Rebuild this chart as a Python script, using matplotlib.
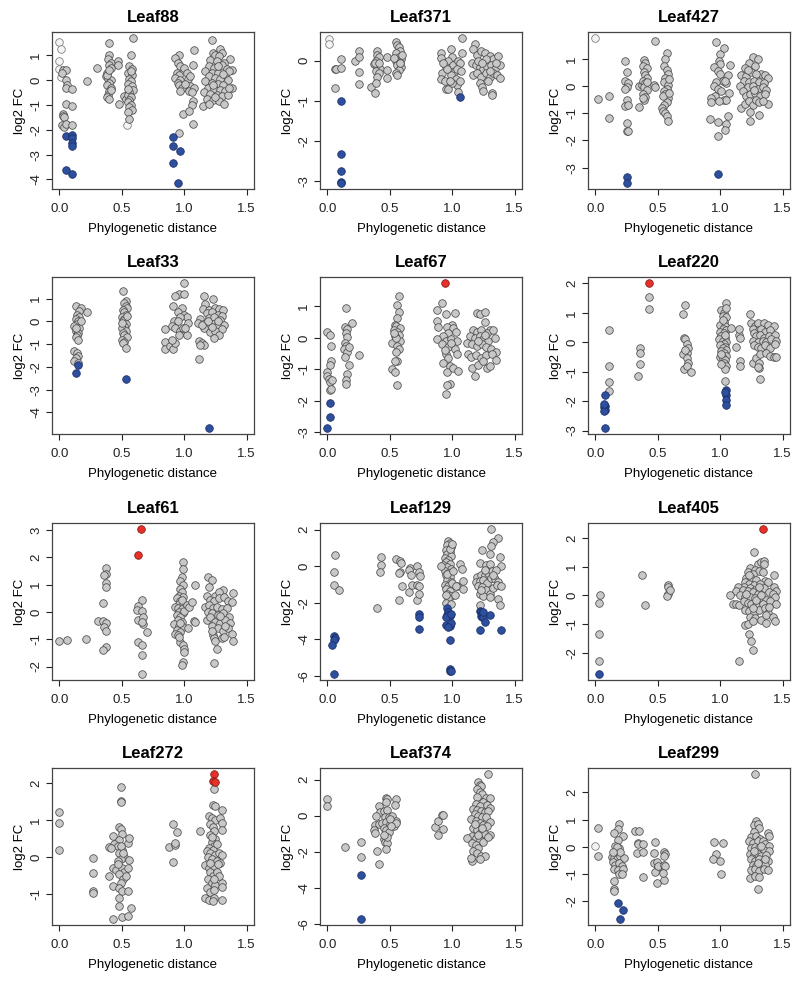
import matplotlib
matplotlib.use('Agg')
import matplotlib.pyplot as plt

# (distance, log2 FC) pairs, one list per panel and colour
leaf88_grey = [(0.03,0.4),(0.05,0.4),(0.02,0.3),(0.05,0.0),(0.06,-0.2),(0.05,-0.3),(0.1,-0.35),(0.05,-0.95),(0.1,-1.05),
    (0.03,-1.35),(0.03,-1.45),(0.04,-1.5),(0.02,-1.8),(0.04,-1.9),(0.05,-1.75),(0.1,-1.8),(0.22,-0.05),(0.3,0.5),
    (0.4,1.5),(0.4,1.0),(0.39,0.85),(0.41,0.7),(0.4,0.6),(0.41,0.5),(0.38,0.3),(0.37,0.15),(0.39,0.05),(0.41,0.0),
    (0.4,-0.1),(0.38,-0.2),(0.41,-0.3),(0.4,-0.45),(0.39,-0.6),(0.38,-0.7),(0.4,-0.75),(0.41,-0.4),(0.38,0.2),(0.4,0.4),
    (0.47,0.75),(0.47,0.6),(0.48,-0.95),(0.52,-0.65),(0.53,-0.75),
    (0.59,1.7),(0.57,1.0),(0.56,0.55),(0.58,0.45),(0.55,0.3),(0.58,0.2),(0.56,0.05),(0.57,-0.05),(0.55,-0.15),(0.58,-0.25),
    (0.59,-0.4),(0.56,-0.5),(0.55,-0.6),(0.57,-0.7),(0.56,-0.8),(0.55,-0.9),(0.57,-1.0),(0.56,-1.1),(0.58,-1.2),(0.55,-1.3),
    (0.56,-1.55),(0.57,0.35),(0.55,-0.35),
    (0.96,1.0),(0.93,0.9),(0.95,0.7),(0.97,0.55),(0.94,0.3),(0.96,0.2),(0.93,0.1),(0.97,0.0),(0.95,-0.1),(0.96,-0.2),
    (0.98,-0.3),(0.97,-0.45),(0.96,-2.15),(0.99,-1.35),
    (1.0,0.5),(1.02,0.3),(1.03,0.05),(1.05,-0.25),(1.04,-0.45),(1.07,-0.85),(1.06,-1.0),(1.04,-1.25),(1.07,-1.75),(1.08,1.2),
    (1.07,0.6),(1.08,-0.3),(1.06,-0.5),(1.05,0.15),(1.01,-0.15),
    (1.22,1.6),(1.23,1.1),(1.25,1.0),(1.29,1.25),(1.3,1.1),(1.28,0.95),(1.37,0.85),(1.21,0.8),(1.26,0.75),(1.32,0.7),
    (1.2,0.55),(1.24,0.5),(1.3,0.6),(1.34,0.45),(1.38,0.4),(1.17,0.35),(1.22,0.3),(1.27,0.3),(1.33,0.2),(1.36,0.35),
    (1.2,0.15),(1.25,0.1),(1.29,0.05),(1.35,0.0),(1.17,-0.05),(1.22,-0.1),(1.27,-0.15),(1.31,-0.2),(1.38,-0.3),(1.19,-0.3),
    (1.24,-0.35),(1.29,-0.4),(1.33,-0.45),(1.16,-0.5),(1.21,-0.55),(1.26,-0.6),(1.3,-0.65),(1.35,-0.6),(1.18,-0.75),
    (1.23,-0.8),(1.28,-0.85),(1.32,-0.95),(1.15,-1.05),(1.2,-0.95),(1.25,-0.7),(1.36,-0.3),(1.27,0.55),(1.23,-0.2),(1.31,0.25)]
leaf88_blue = [(0.05,-2.25),(0.1,-2.2),(0.1,-2.35),(0.1,-2.55),(0.1,-2.65),(0.05,-3.6),(0.1,-3.78),
    (0.91,-2.3),(0.91,-2.65),(0.97,-2.85),(0.91,-3.35),(0.95,-4.15)]
leaf88_red = []
leaf88_pale = [(0.0,1.53),(0.01,1.25),(0.0,0.78),(0.0,0.43),(0.01,0.12),(0.54,-1.8)]
leaf88_yticks = [-4, -3, -2, -1, 0, 1]

leaf371_grey = [(0.06,-0.2),(0.07,-0.2),(0.11,0.03),(0.11,-0.18),(0.06,-0.67),(0.22,0.0),(0.25,0.25),(0.25,0.08),
    (0.25,-0.27),(0.25,-0.57),(0.35,-0.66),(0.38,-0.8),
    (0.4,0.25),(0.4,0.15),(0.41,0.08),(0.39,0.0),(0.37,-0.07),(0.4,-0.12),(0.42,-0.2),(0.39,-0.25),(0.41,-0.3),(0.4,-0.4),
    (0.39,-0.55),(0.38,-0.05),(0.41,-0.05),(0.48,0.08),(0.48,-0.22),(0.48,-0.42),
    (0.55,0.47),(0.56,0.4),(0.57,0.35),(0.58,0.25),(0.55,0.2),(0.57,0.1),(0.59,0.05),(0.55,0.0),(0.58,-0.05),(0.56,-0.1),
    (0.59,-0.15),(0.57,-0.22),(0.55,-0.3),(0.56,-0.35),(0.6,0.15),(0.53,0.07),(0.58,-0.05),
    (0.91,0.18),(0.91,0.07),(0.92,-0.3),(0.91,-0.45),(0.94,-0.5),(0.95,-0.7),(0.97,-0.7),(0.99,0.28),(1.0,0.1),(0.97,0.0),
    (0.95,-0.15),(1.01,-0.1),(1.02,-0.25),(0.99,-0.35),(1.03,-0.45),(1.04,-0.6),(1.05,-0.78),(1.0,-0.55),(1.05,0.0),
    (1.06,-0.05),(1.04,-0.2),(1.07,-0.25),(1.08,0.57),(1.08,0.18),(0.96,-0.2),(0.93,-0.05),(1.06,-0.5),(0.98,-0.5),
    (1.18,0.42),(1.17,0.3),(1.2,0.15),(1.23,0.25),(1.26,0.2),(1.3,0.12),(1.33,0.05),(1.37,0.12),(1.16,-0.05),(1.19,-0.1),
    (1.22,-0.15),(1.25,-0.2),(1.28,-0.15),(1.31,-0.1),(1.34,-0.2),(1.38,-0.1),(1.17,-0.35),(1.2,-0.3),(1.23,-0.4),
    (1.27,-0.3),(1.3,-0.4),(1.33,-0.3),(1.36,-0.35),(1.38,-0.42),(1.22,-0.55),(1.24,-0.65),(1.25,-0.75),(1.32,-0.8),
    (1.32,-0.85),(1.29,-0.5),(1.21,0.0),(1.27,0.05),(1.35,-0.05),(1.24,-0.05),(1.3,-0.25)]
leaf371_blue = [(0.11,-1.0),(0.11,-2.32),(0.11,-2.75),(0.11,-3.02),(0.11,-3.05),(1.06,-0.9)]
leaf371_red = []
leaf371_pale = [(0.01,0.55),(0.01,0.42)]
leaf371_yticks = [-3, -2, -1, 0]

leaf427_grey = [(0.02,-0.47),(0.11,-0.37),(0.11,-1.18),
    (0.24,0.92),(0.25,0.5),(0.24,0.18),(0.26,0.1),(0.25,-0.05),(0.24,-0.1),(0.25,-0.5),(0.24,-0.75),(0.26,-0.7),
    (0.25,-1.35),(0.25,-1.65),(0.26,-1.67),(0.35,-0.77),(0.35,0.0),(0.37,0.02),
    (0.39,0.95),(0.4,0.85),(0.38,0.75),(0.41,0.65),(0.39,0.5),(0.4,0.4),(0.41,0.3),(0.38,0.2),(0.4,0.1),(0.39,-0.05),
    (0.41,-0.15),(0.38,-0.3),(0.4,-0.4),(0.39,-0.5),(0.41,0.15),(0.38,-0.45),(0.48,1.65),(0.47,0.05),(0.48,-0.05),
    (0.57,1.22),(0.56,1.0),(0.55,0.75),(0.57,0.6),(0.58,0.45),(0.56,0.3),(0.55,0.15),(0.58,0.05),(0.57,-0.1),(0.55,-0.2),
    (0.56,-0.3),(0.58,-0.45),(0.57,-0.6),(0.55,-0.7),(0.53,-0.8),(0.54,-0.9),(0.56,-1.0),(0.57,-1.1),(0.58,-1.3),
    (0.59,0.25),(0.54,-0.35),(0.59,-0.25),
    (0.97,1.63),(1.0,1.18),(1.03,1.4),(0.99,0.9),(1.0,0.8),(0.95,0.68),(0.98,0.55),(1.0,0.45),(1.02,0.2),(0.97,0.15),
    (0.95,0.0),(0.98,-0.1),(1.01,-0.2),(0.96,-0.35),(0.93,-0.45),(0.93,-0.6),(0.92,-1.2),(0.98,-1.32),(0.98,-1.85),
    (1.06,-1.12),(1.05,-1.4),(1.04,-1.62),(1.08,0.78),(1.06,0.42),(1.07,-0.25),(1.05,0.1),(1.03,-0.5),(1.05,-0.5),
    (0.99,-0.55),(1.04,0.2),
    (1.26,1.05),(1.3,1.0),(1.23,0.85),(1.28,0.75),(1.2,0.65),(1.33,0.45),(1.17,0.4),(1.21,0.35),(1.25,0.5),(1.29,0.45),
    (1.36,0.4),(1.38,0.3),(1.19,0.2),(1.23,0.15),(1.27,0.2),(1.31,0.15),(1.35,0.1),(1.16,0.0),(1.22,-0.05),(1.26,0.0),
    (1.3,-0.1),(1.34,-0.05),(1.37,-0.15),(1.18,-0.2),(1.21,-0.35),(1.24,-0.3),(1.28,-0.25),(1.32,-0.35),(1.36,-0.3),
    (1.38,-0.65),(1.17,-0.8),(1.2,-0.65),(1.23,-0.55),(1.26,-0.7),(1.29,-0.5),(1.31,-0.6),(1.24,-0.95),(1.24,-1.28),
    (1.31,-1.08),(1.34,-0.55),(1.27,-0.15),(1.22,0.6)]
leaf427_blue = [(0.25,-3.35),(0.25,-3.57),(0.98,-3.23)]
leaf427_red = []
leaf427_pale = [(0.0,1.77)]
leaf427_yticks = [-3, -2, -1, 0, 1]

leaf33_grey = [(0.13,0.68),(0.17,0.6),(0.16,0.45),(0.22,0.42),(0.14,0.3),(0.16,0.2),(0.13,0.1),(0.15,0.0),(0.14,-0.1),
    (0.12,-0.2),(0.16,-0.3),(0.13,-0.4),(0.15,-0.5),(0.14,-0.6),(0.13,-0.7),(0.15,-0.8),(0.12,-1.3),(0.14,-1.4),
    (0.15,-1.5),(0.13,-1.6),(0.12,-1.75),(0.15,-1.85),(0.17,0.0),(0.13,-0.3),
    (0.51,1.35),(0.53,0.9),(0.52,0.8),(0.53,0.7),(0.54,0.6),(0.51,0.5),(0.52,0.4),(0.53,0.3),(0.5,0.2),(0.52,0.1),
    (0.51,0.0),(0.53,-0.1),(0.52,-0.2),(0.5,-0.3),(0.53,-0.4),(0.51,-0.5),(0.52,-0.6),(0.54,-0.7),(0.5,-0.8),(0.52,-0.9),
    (0.51,-0.95),(0.53,-1.15),(0.54,0.25),(0.5,-0.05),
    (1.0,1.7),(0.96,1.2),(1.0,1.2),(0.93,1.1),(0.91,0.7),(0.98,0.6),(0.95,0.4),(1.0,0.3),(1.02,0.2),(0.97,0.2),(0.92,0.0),
    (0.95,0.0),(1.03,-0.05),(0.85,-0.35),(0.9,-0.2),(0.93,-0.3),(0.97,-0.4),(1.0,-0.45),(1.02,-0.6),(0.85,-0.9),
    (0.85,-1.2),(0.89,-1.1),(0.91,-1.2),(0.93,-0.95),(0.9,-0.8),(0.96,-0.6),(0.99,-0.3),(1.01,-0.3),
    (1.16,1.1),(1.23,1.0),(1.17,0.75),(1.15,0.55),(1.2,0.5),(1.25,0.6),(1.28,0.55),(1.31,0.5),(1.18,0.35),(1.22,0.4),
    (1.27,0.3),(1.3,0.25),(1.13,0.1),(1.2,0.15),(1.24,0.2),(1.29,0.05),(1.32,-0.15),(1.11,-0.05),(1.15,-0.1),(1.19,-0.15),
    (1.23,-0.1),(1.26,-0.2),(1.3,-0.35),(1.16,-0.3),(1.21,-0.45),(1.25,-0.4),(1.28,-0.6),(1.24,-0.75),(1.12,-0.85),
    (1.14,-0.95),(1.16,-1.05),(1.13,-1.05),(1.12,-1.65),(1.14,-0.15),(1.22,-0.25),(1.27,0.0),(1.19,0.0)]
leaf33_blue = [(0.13,-2.25),(0.15,-1.92),(0.53,-2.52),(1.2,-4.7)]
leaf33_red = []
leaf33_pale = []
leaf33_yticks = [-4, -3, -2, -1, 0, 1]

leaf67_grey = [(0.0,0.2),(0.02,0.1),(0.03,-0.25),(0.03,-0.75),(0.02,-0.85),(0.0,-1.1),(0.0,-1.2),(0.01,-1.3),(0.02,-1.4),
    (0.04,-1.35),(0.02,-1.65),(0.03,-1.62),
    (0.15,0.95),(0.14,0.35),(0.16,0.28),(0.15,0.15),(0.16,0.02),(0.14,-0.15),(0.15,-0.25),(0.13,-0.35),(0.16,-0.45),
    (0.14,-0.6),(0.17,-0.85),(0.16,-1.15),(0.15,-1.35),(0.15,-1.45),(0.2,0.47),(0.25,-0.55),(0.17,-0.3),
    (0.57,1.32),(0.56,1.05),(0.57,0.82),(0.56,0.62),(0.54,0.42),(0.55,0.38),(0.58,0.3),(0.53,0.25),(0.56,0.2),(0.57,0.1),
    (0.54,0.05),(0.55,-0.05),(0.58,-0.1),(0.52,-0.15),(0.56,-0.25),(0.57,-0.35),(0.55,-0.45),(0.56,-0.72),(0.54,-0.72),
    (0.52,-1.0),(0.54,-1.1),(0.56,-1.5),(0.55,0.0),(0.53,0.15),
    (0.92,1.1),(0.88,0.9),(0.95,0.75),(0.88,0.55),(0.89,0.35),(1.02,0.8),(1.0,0.42),(0.96,0.35),(1.01,0.3),(1.03,0.2),
    (0.97,0.15),(0.93,0.05),(0.88,-0.05),(0.95,-0.1),(0.99,-0.05),(1.04,-0.1),(0.92,-0.2),(0.97,-0.3),(1.02,-0.35),
    (0.95,-0.5),(1.04,-0.5),(0.97,-0.65),(0.93,-0.8),(0.98,-0.9),(0.96,-1.1),(1.01,-0.95),(1.05,-1.05),(0.98,-1.45),
    (0.96,-1.5),(0.95,-1.78),(0.99,-0.15),(0.94,-0.4),
    (1.2,0.8),(1.22,0.75),(1.26,0.82),(1.26,0.5),(1.3,0.25),(1.17,0.25),(1.2,0.2),(1.23,0.25),(1.28,0.15),(1.33,0.25),
    (1.14,0.05),(1.18,0.0),(1.22,0.05),(1.25,-0.05),(1.29,-0.1),(1.34,0.0),(1.12,-0.15),(1.16,-0.2),(1.2,-0.25),
    (1.24,-0.2),(1.27,-0.3),(1.31,-0.35),(1.35,-0.45),(1.13,-0.5),(1.15,-0.6),(1.19,-0.55),(1.23,-0.65),(1.27,-0.55),
    (1.32,-0.5),(1.35,-0.7),(1.16,-0.95),(1.18,-1.2),(1.21,-0.85),(1.25,-0.75),(1.28,-0.95),(1.3,-0.9),(1.21,-0.1),(1.26,0.1)]
leaf67_blue = [(0.02,-2.07),(0.02,-2.5),(0.0,-2.87)]
leaf67_red = [(0.94,1.75)]
leaf67_pale = []
leaf67_yticks = [-3, -2, -1, 0, 1]

leaf220_grey = [(0.43,1.55),(0.43,1.13),(0.11,0.42),(0.11,-0.82),(0.11,-1.35),(0.11,-1.67),(0.34,-1.13),(0.36,-0.2),
    (0.36,-0.35),(0.36,-0.75),
    (0.7,0.97),(0.72,1.25),(0.71,0.15),(0.72,0.1),(0.73,-0.05),(0.74,-0.2),(0.73,-0.35),(0.7,-0.4),(0.73,-0.55),(0.74,-0.7),
    (0.71,-0.9),(0.73,-0.8),(0.77,-1.02),(0.72,-0.25),
    (1.01,1.1),(1.03,1.0),(1.05,1.35),(1.05,1.15),(1.02,0.9),(1.05,0.85),(1.03,0.7),(1.0,0.6),(1.04,0.55),(1.02,0.45),
    (1.05,0.4),(1.0,0.35),(1.03,0.3),(1.01,0.2),(1.04,0.15),(0.99,0.12),(1.02,0.05),(1.05,0.0),(1.03,-0.05),(1.0,-0.1),
    (1.04,-0.15),(1.02,-0.2),(1.05,-0.25),(1.01,-0.3),(1.03,-0.35),(1.05,-0.45),(1.0,-0.5),(1.02,-0.55),(1.04,-0.6),
    (1.03,-0.7),(1.05,-0.8),(1.04,-0.9),(1.01,-0.75),(1.04,-1.32),(1.02,0.75),(1.04,0.25),(1.01,-0.4),
    (1.09,0.48),(1.13,-0.17),(1.15,0.25),(1.16,0.15),(1.15,0.45),(1.16,-0.62),(1.16,-0.8),
    (1.24,0.97),(1.25,0.65),(1.28,0.55),(1.3,0.65),(1.35,0.65),(1.38,0.6),(1.43,0.55),(1.26,0.45),(1.31,0.4),(1.33,0.45),
    (1.36,0.35),(1.4,0.4),(1.27,0.3),(1.29,0.2),(1.32,0.25),(1.35,0.15),(1.39,0.2),(1.44,0.25),(1.26,0.05),(1.3,0.0),
    (1.34,0.05),(1.37,0.0),(1.41,0.1),(1.45,0.05),(1.27,-0.1),(1.3,-0.15),(1.33,-0.2),(1.36,-0.1),(1.4,-0.2),(1.44,-0.05),
    (1.26,-0.7),(1.29,-0.55),(1.31,-0.7),(1.31,-0.88),(1.32,-0.4),(1.37,-0.35),(1.4,-0.45),(1.43,-0.5),(1.45,-0.5),
    (1.32,-1.25),(1.3,-0.85)]
leaf220_blue = [(0.08,-1.8),(0.08,-2.15),(0.07,-2.2),(0.08,-2.3),(0.07,-2.35),(0.07,-2.1),(0.08,-2.92),
    (1.05,-1.62),(1.05,-1.8),(1.05,-1.97),(1.05,-2.13),(1.04,-1.7)]
leaf220_red = [(0.43,2.02)]
leaf220_pale = []
leaf220_yticks = [-3, -2, -1, 0, 1, 2]

leaf61_grey = [(0.0,-1.05),(0.06,-1.02),(0.21,-1.0),
    (0.37,1.62),(0.37,1.38),(0.36,1.35),(0.37,1.05),(0.37,0.9),(0.35,0.32),(0.31,-0.32),(0.35,-0.32),(0.37,-0.42),
    (0.36,-0.55),(0.37,-0.68),(0.37,-1.3),(0.35,-1.38),
    (0.66,0.43),(0.63,0.22),(0.62,0.07),(0.66,0.05),(0.63,-0.3),(0.67,-0.18),(0.67,-0.45),(0.7,-0.72),(0.66,-0.35),
    (0.63,-1.1),(0.66,-1.2),(0.66,-1.57),(0.66,-2.28),
    (0.99,1.85),(0.99,1.58),(0.98,1.3),(0.97,1.15),(0.99,1.0),(0.97,0.85),(0.98,0.75),(0.96,0.6),(0.99,0.55),(0.94,0.5),
    (0.97,0.4),(0.96,0.3),(0.99,0.25),(0.93,0.2),(0.95,0.15),(0.98,0.1),(0.96,0.0),(0.99,-0.05),(0.94,-0.1),(0.97,-0.2),
    (0.95,-0.3),(0.98,-0.35),(0.92,-0.45),(0.96,-0.5),(0.99,-0.55),(0.94,-0.65),(0.97,-0.75),(0.93,-0.8),(0.95,-0.85),
    (0.97,-1.1),(0.99,-1.2),(1.0,-1.35),(1.0,-1.45),(0.99,-1.85),(0.98,-1.95),(0.96,-0.9),(0.98,0.45),(1.0,0.05),(0.97,-0.4),
    (1.02,0.25),(1.04,0.2),(1.06,0.35),(1.09,1.0),(1.08,-0.33),(1.09,-0.35),(1.03,-0.6),
    (1.19,1.3),(1.22,1.18),(1.2,0.9),(1.25,0.6),(1.31,0.8),(1.28,0.75),(1.39,0.7),(1.18,0.6),(1.21,0.45),(1.24,0.4),
    (1.28,0.5),(1.32,0.55),(1.35,0.4),(1.38,0.35),(1.17,0.2),(1.2,0.25),(1.23,0.15),(1.26,0.2),(1.3,0.1),(1.34,0.15),
    (1.19,0.0),(1.22,-0.05),(1.27,-0.1),(1.31,-0.05),(1.36,-0.2),(1.18,-0.3),(1.21,-0.2),(1.25,-0.35),(1.29,-0.4),
    (1.33,-0.3),(1.37,-0.4),(1.22,-0.5),(1.27,-0.6),(1.31,-0.7),(1.35,-0.6),(1.38,-0.8),(1.23,-0.85),(1.24,-0.95),
    (1.25,-1.05),(1.3,-0.95),(1.32,-0.9),(1.39,-1.05),(1.26,-1.35),(1.24,-1.88),(1.22,-0.7),(1.29,-0.15),(1.33,-0.5)]
leaf61_blue = []
leaf61_red = [(0.65,3.05),(0.63,2.08)]
leaf61_pale = []
leaf61_yticks = [-2, -1, 0, 1, 2, 3]

leaf129_grey = [(0.06,0.62),(0.05,-0.3),(0.05,-1.0),(0.09,-1.3),(0.4,-2.3),(0.43,0.5),(0.43,0.05),(0.42,-0.3),
    (0.55,0.4),(0.58,0.3),(0.59,0.2),(0.58,-0.3),(0.57,-0.35),(0.6,-1.05),(0.57,-1.85),(0.65,-1.38),(0.66,-0.12),
    (0.65,-0.2),(0.67,-0.45),(0.68,-1.0),(0.72,0.0),(0.73,-0.3),(0.74,-0.55),(0.72,-1.0),(0.73,-1.05),(0.72,-1.85),(0.73,-1.5),
    (0.97,1.4),(0.98,1.25),(0.96,1.15),(0.99,1.05),(0.95,0.9),(0.98,0.8),(0.96,0.65),(0.99,0.55),(0.94,0.45),(0.97,0.35),
    (0.95,0.25),(0.98,0.15),(0.93,0.05),(0.96,-0.05),(0.99,-0.15),(0.94,-0.25),(0.97,-0.35),(0.95,-0.5),(0.98,-0.6),
    (0.96,-0.75),(0.99,-0.85),(0.94,-1.0),(0.97,-1.1),(0.95,-1.25),(0.98,-1.35),(0.96,-1.5),(0.99,-1.65),(0.97,-1.75),
    (0.95,-2.0),(0.99,-2.05),(1.0,-0.9),(0.98,0.95),(0.96,-0.4),(0.95,-1.55),(1.0,1.2),(0.91,0.0),
    (1.01,-0.25),(1.04,-1.05),(1.06,0.15),(1.08,-0.15),(1.09,-0.8),(1.09,-1.25),(1.03,-1.05),(1.02,-1.55),
    (1.31,2.05),(1.37,1.55),(1.33,1.35),(1.31,1.1),(1.3,0.7),(1.24,0.9),(1.22,0.2),(1.27,0.05),(1.3,0.1),(1.38,0.5),
    (1.39,0.0),(1.2,-0.6),(1.23,-0.5),(1.26,-0.45),(1.29,-0.35),(1.32,-0.25),(1.35,-0.2),(1.19,-0.85),(1.22,-0.8),
    (1.25,-0.75),(1.28,-0.9),(1.31,-0.65),(1.34,-0.7),(1.37,-0.85),(1.21,-1.05),(1.24,-1.15),(1.27,-1.3),(1.3,-1.5),
    (1.33,-1.2),(1.36,-1.0),(1.39,-1.05),(1.22,-1.5),(1.25,-1.6),(1.3,-1.7),(1.37,-1.8),(1.38,-2.1),(1.22,-2.1),
    (1.23,-1.3),(1.26,-0.2),(1.33,-0.45)]
leaf129_blue = [(0.05,-3.82),(0.06,-3.9),(0.05,-4.02),(0.04,-4.28),(0.05,-5.9),(0.73,-2.6),(0.73,-2.8),(0.73,-3.42),
    (0.96,-2.3),(0.97,-2.5),(0.96,-2.65),(0.98,-2.7),(0.95,-2.8),(0.99,-2.6),(0.95,-3.2),(0.98,-3.25),(0.99,-3.1),
    (0.97,-3.3),(0.98,-4.05),(0.98,-5.6),(0.98,-5.7),(0.99,-5.75),(1.22,-2.45),(1.23,-2.5),(1.24,-2.6),(1.23,-2.72),
    (1.24,-2.8),(1.25,-2.75),(1.26,-3.05),(1.22,-3.48),(1.3,-2.68),(1.39,-3.48),(1.25,-2.5)]
leaf129_red = []
leaf129_pale = []
leaf129_yticks = [-6, -4, -2, 0, 2]

leaf405_grey = [(0.04,0.01),(0.03,-0.27),(0.03,-1.35),(0.03,-2.28),(0.37,0.72),(0.4,-0.32),(0.58,0.35),(0.58,0.3),
    (0.58,0.05),(0.57,-0.03),(0.6,0.2),
    (1.27,1.5),(1.3,1.1),(1.33,1.18),(1.35,1.2),(1.35,1.1),(1.24,0.95),(1.28,0.9),(1.31,0.85),(1.22,0.8),(1.26,0.75),
    (1.34,0.8),(1.43,0.72),(1.21,0.6),(1.25,0.6),(1.29,0.55),(1.36,0.5),(1.38,0.45),(1.2,0.45),(1.23,0.4),(1.27,0.35),
    (1.32,0.4),(1.19,0.3),(1.24,0.25),(1.28,0.2),(1.35,0.25),(1.43,0.3),(1.45,0.15),(1.14,0.3),(1.13,0.15),(1.18,0.2),
    (1.22,0.15),(1.26,0.1),(1.3,0.05),(1.39,0.1),(1.42,0.05),(1.08,0.0),(1.16,0.0),(1.2,-0.05),(1.24,-0.05),(1.28,-0.1),
    (1.33,-0.05),(1.37,-0.15),(1.44,-0.05),(1.1,-0.3),(1.13,-0.3),(1.15,-0.35),(1.19,-0.2),(1.22,-0.25),(1.25,-0.3),
    (1.29,-0.35),(1.34,-0.3),(1.4,-0.2),(1.45,-0.3),(1.2,-0.5),(1.23,-0.55),(1.27,-0.6),(1.31,-0.5),(1.36,-0.45),
    (1.38,-0.6),(1.24,-0.75),(1.28,-0.8),(1.33,-0.85),(1.37,-0.7),(1.42,-0.75),(1.44,-0.9),(1.2,-1.05),(1.22,-1.0),
    (1.26,-0.9),(1.37,-0.98),(1.23,-1.35),(1.25,-1.58),(1.26,-1.9),(1.15,-2.3),(1.29,-0.15),(1.21,0.05),(1.31,0.3),
    (1.26,-0.45),(1.33,0.0),(1.23,0.7),(1.39,-0.4)]
leaf405_blue = [(0.03,-2.75)]
leaf405_red = [(1.34,2.32)]
leaf405_pale = []
leaf405_yticks = [-2, -1, 0, 1, 2]

leaf272_grey = [(0.0,1.22),(0.0,0.93),(0.0,0.18),(0.27,-0.03),(0.27,-0.42),(0.27,-0.92),(0.27,-0.97),
    (0.49,1.9),(0.49,1.52),(0.49,1.48),(0.48,0.82),(0.49,0.75),(0.5,0.62),(0.43,0.57),(0.48,0.45),(0.55,0.38),(0.56,0.52),
    (0.44,0.35),(0.47,0.3),(0.4,0.28),(0.41,0.25),(0.5,0.2),(0.48,0.1),(0.52,0.0),(0.49,-0.05),(0.47,-0.12),(0.56,-0.08),
    (0.43,-0.3),(0.45,-0.35),(0.5,-0.3),(0.52,-0.4),(0.55,-0.3),(0.48,-0.45),(0.4,-0.52),(0.51,-0.6),(0.49,-0.7),
    (0.43,-0.78),(0.48,-0.85),(0.5,-0.92),(0.55,-0.92),(0.48,-1.12),(0.48,-1.33),(0.5,-1.62),(0.55,-1.6),(0.57,-1.38),
    (0.43,-1.68),(0.49,0.3),(0.51,0.12),(0.47,-0.2),(0.53,-0.5),
    (0.88,0.28),(0.91,0.9),(0.91,-0.13),(0.93,0.32),(0.93,0.38),(0.94,0.68),
    (1.24,1.85),(1.23,1.42),(1.25,1.38),(1.2,1.1),(1.22,1.05),(1.25,1.0),(1.3,1.28),(1.29,1.05),(1.3,0.92),(1.3,0.72),
    (1.13,0.7),(1.21,0.9),(1.23,0.8),(1.24,0.7),(1.21,0.6),(1.25,0.5),(1.22,0.4),(1.24,0.3),(1.2,0.25),(1.23,0.2),
    (1.18,0.15),(1.21,0.1),(1.25,0.05),(1.28,0.1),(1.3,0.05),(1.19,0.0),(1.22,-0.05),(1.26,-0.1),(1.29,-0.15),(1.17,-0.22),
    (1.2,-0.3),(1.24,-0.25),(1.27,-0.2),(1.21,-0.4),(1.23,-0.5),(1.19,-0.6),(1.22,-0.7),(1.25,-0.75),(1.3,-0.7),(1.3,-0.8),
    (1.18,-0.85),(1.21,-0.95),(1.24,-0.9),(1.17,-1.1),(1.2,-1.15),(1.24,-1.1),(1.23,-1.2),(1.3,-1.15),(1.26,-0.4),
    (1.28,-0.5),(1.26,0.35),(1.22,0.55),(1.24,-0.6),(1.21,-0.15)]
leaf272_blue = []
leaf272_red = [(1.24,2.25),(1.23,2.05),(1.25,2.02)]
leaf272_pale = []
leaf272_yticks = [-1, 0, 1, 2]

leaf374_grey = [(0.0,0.92),(0.0,0.52),(0.14,-1.72),(0.27,-1.48),(0.27,-2.3),(0.4,-1.95),(0.41,-2.7),
    (0.47,1.0),(0.48,0.9),(0.55,0.9),(0.47,0.75),(0.54,0.6),(0.41,0.55),(0.42,0.2),(0.45,0.25),(0.48,0.3),(0.39,0.0),
    (0.46,-0.05),(0.49,-0.1),(0.52,0.0),(0.55,-0.3),(0.38,-0.5),(0.41,-0.45),(0.44,-0.4),(0.47,-0.35),(0.5,-0.45),
    (0.53,-0.6),(0.37,-0.8),(0.38,-0.95),(0.45,-0.7),(0.47,-0.8),(0.49,-0.9),(0.45,-1.3),(0.46,-1.45),(0.48,-1.5),
    (0.47,-1.85),(0.48,-1.2),(0.5,-0.2),(0.45,-1.1),(0.55,-0.4),(0.51,-0.6),
    (0.86,-0.62),(0.89,-0.3),(0.89,-1.05),(0.92,0.05),(0.93,0.05),(0.93,-0.75),
    (1.29,2.32),(1.21,1.85),(1.22,1.7),(1.23,1.65),(1.2,1.45),(1.22,1.3),(1.24,1.2),(1.2,1.05),(1.27,0.95),(1.3,0.98),
    (1.25,0.75),(1.19,0.65),(1.22,0.55),(1.28,0.6),(1.3,0.45),(1.17,0.35),(1.2,0.3),(1.23,0.25),(1.26,0.2),(1.29,0.25),
    (1.18,0.1),(1.21,0.0),(1.24,-0.05),(1.27,-0.1),(1.3,-0.35),(1.15,-0.2),(1.19,-0.3),(1.22,-0.4),(1.25,-0.5),(1.28,-0.6),
    (1.17,-0.7),(1.2,-0.8),(1.23,-0.9),(1.26,-1.0),(1.3,-1.1),(1.16,-1.15),(1.19,-1.25),(1.22,-1.35),(1.25,-1.45),
    (1.29,-1.2),(1.12,-1.25),(1.16,-1.5),(1.19,-1.65),(1.21,-1.8),(1.17,-1.95),(1.2,-2.1),(1.23,-2.25),(1.26,-2.25),
    (1.22,-2.4),(1.16,-2.5),(1.15,-2.35),(1.24,-0.7),(1.18,-0.45),(1.21,-1.05)]
leaf374_blue = [(0.27,-3.32),(0.27,-5.75)]
leaf374_red = []
leaf374_pale = []
leaf374_yticks = [-6, -4, -2, 0, 2]

leaf299_grey = [(0.02,0.68),(0.02,-0.35),
    (0.19,0.85),(0.18,0.65),(0.15,0.5),(0.22,0.4),(0.18,0.25),(0.16,0.05),(0.19,-0.05),(0.13,-0.38),(0.15,-0.4),
    (0.17,-0.45),(0.2,-0.35),(0.23,-0.4),(0.14,-0.55),(0.16,-0.65),(0.19,-0.6),(0.21,-0.7),(0.15,-0.8),(0.18,-0.85),
    (0.22,-0.8),(0.19,-1.0),(0.21,-1.0),(0.15,-1.25),(0.15,-1.55),(0.15,-1.63),(0.17,0.0),(0.2,-0.2),(0.14,-0.2),
    (0.32,0.58),(0.35,0.58),(0.34,0.15),(0.34,0.1),(0.38,0.12),(0.33,-0.22),(0.38,-0.2),(0.38,-1.12),
    (0.48,0.18),(0.47,-0.22),(0.47,-0.6),(0.49,-0.55),(0.5,-0.75),(0.48,-0.92),(0.49,-1.32),(0.5,-0.7),(0.55,-0.18),
    (0.56,-0.25),(0.55,-0.35),(0.55,-0.65),(0.56,-0.7),(0.55,-1.2),(0.54,-0.95),
    (0.95,0.17),(1.02,0.15),(0.97,-0.25),(0.94,-0.45),(1.0,-0.5),(1.01,-0.98),
    (1.28,2.68),(1.29,0.95),(1.27,0.8),(1.3,0.85),(1.31,0.7),(1.27,0.55),(1.25,0.35),(1.29,0.4),(1.32,0.3),(1.38,0.5),
    (1.39,0.4),(1.23,0.2),(1.26,0.15),(1.3,0.2),(1.34,0.2),(1.36,0.1),(1.39,0.05),(1.25,-0.05),(1.28,0.0),(1.31,-0.05),
    (1.35,-0.1),(1.39,-0.15),(1.24,-0.25),(1.27,-0.3),(1.3,-0.25),(1.33,-0.35),(1.37,-0.3),(1.25,-0.45),(1.28,-0.5),
    (1.31,-0.45),(1.34,-0.55),(1.38,-0.5),(1.26,-0.65),(1.29,-0.7),(1.32,-0.75),(1.36,-0.65),(1.25,-0.85),(1.28,-0.8),
    (1.31,-0.9),(1.35,-0.8),(1.38,-0.85),(1.24,-1.15),(1.28,-1.05),(1.31,-1.1),(1.3,-1.55),(1.27,-0.15),(1.3,-0.6),
    (1.33,0.05),(1.36,-0.45)]
leaf299_blue = [(0.18,-2.05),(0.22,-2.3),(0.2,-2.65)]
leaf299_red = []
leaf299_pale = [(0.0,0.02)]
leaf299_yticks = [-2, -1, 0, 1, 2]

PANELS = [
    ("Leaf88", leaf88_grey, leaf88_blue, leaf88_red, leaf88_pale, leaf88_yticks),
    ("Leaf371", leaf371_grey, leaf371_blue, leaf371_red, leaf371_pale, leaf371_yticks),
    ("Leaf427", leaf427_grey, leaf427_blue, leaf427_red, leaf427_pale, leaf427_yticks),
    ("Leaf33", leaf33_grey, leaf33_blue, leaf33_red, leaf33_pale, leaf33_yticks),
    ("Leaf67", leaf67_grey, leaf67_blue, leaf67_red, leaf67_pale, leaf67_yticks),
    ("Leaf220", leaf220_grey, leaf220_blue, leaf220_red, leaf220_pale, leaf220_yticks),
    ("Leaf61", leaf61_grey, leaf61_blue, leaf61_red, leaf61_pale, leaf61_yticks),
    ("Leaf129", leaf129_grey, leaf129_blue, leaf129_red, leaf129_pale, leaf129_yticks),
    ("Leaf405", leaf405_grey, leaf405_blue, leaf405_red, leaf405_pale, leaf405_yticks),
    ("Leaf272", leaf272_grey, leaf272_blue, leaf272_red, leaf272_pale, leaf272_yticks),
    ("Leaf374", leaf374_grey, leaf374_blue, leaf374_red, leaf374_pale, leaf374_yticks),
    ("Leaf299", leaf299_grey, leaf299_blue, leaf299_red, leaf299_pale, leaf299_yticks),
]
XTICKS = [0.0, 0.5, 1.0, 1.5]

plt.rcParams['font.family'] = ['Liberation Sans', 'DejaVu Sans']
plt.rcParams['axes.unicode_minus'] = False

W, H = 800, 983


def padded(lo, hi):
    # R's default 4% axis extension
    d = (hi - lo) * 0.04
    return lo - d, hi + d


def drawPanel(ax, title, grey, blue, red, pale, yticks):
    styles = [(pale, '#f4f4f4', '#777777'), (grey, '#c8c8c8', '#4a4a4a'),
              (blue, '#2d4f9e', '#1a2f66'), (red, '#e8302a', '#7a1a16')]
    for pts, face, edge in styles:
        if pts:
            ax.scatter([p[0] for p in pts], [p[1] for p in pts], s=30, c=face,
                       edgecolors=edge, linewidths=0.55, zorder=3)
    ys = [p[1] for p in grey + blue + red + pale]
    ax.set_xlim(*padded(0, 1.5))
    ax.set_ylim(*padded(min(ys), max(ys)))
    ax.set_xticks(XTICKS)
    ax.set_xticklabels(['%.1f' % t for t in XTICKS])
    ax.set_yticks(yticks)
    ax.set_yticklabels([str(t) for t in yticks], rotation=90, va='center')
    ax.tick_params(direction='out', length=4, width=0.8, labelsize=9.5, colors='#222222')
    ax.tick_params(axis='x', pad=6)
    ax.tick_params(axis='y', pad=3)
    for sp in ax.spines.values():
        sp.set_color('#444444')
        sp.set_linewidth(0.9)
    ax.set_title(title, fontsize=12, fontweight='bold', pad=7)
    ax.set_xlabel('Phylogenetic distance', fontsize=9.5, labelpad=6)
    ax.set_ylabel('log2 FC', fontsize=9.5, labelpad=3)


def main():
    fig = plt.figure(figsize=(W / 100, H / 100), dpi=100)
    lefts = [52, 320, 588]
    tops = [32, 277, 523, 768]
    for i, (title, grey, blue, red, pale, yticks) in enumerate(PANELS):
        left = lefts[i % 3]
        top = tops[i // 3]
        ax = fig.add_axes([left / W, 1 - (top + 157) / H, 202 / W, 157 / H])
        drawPanel(ax, title, grey, blue, red, pale, yticks)
    fig.savefig('out.png', dpi=100)


if (__name__ == "__main__"):
    main()
